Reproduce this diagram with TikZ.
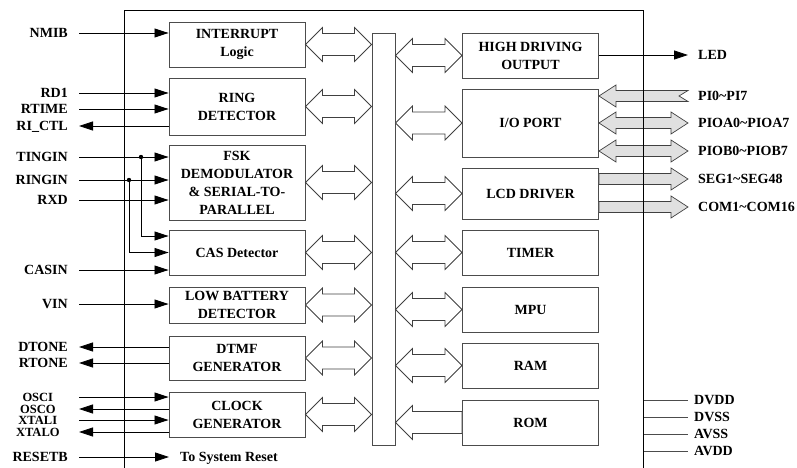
\documentclass[tikz,border=0pt]{standalone}
\usepackage{fontspec}
\setmainfont{Liberation Serif}
\usetikzlibrary{shapes,arrows,arrows.meta,calc}

\newcommand{\busarrow}[5][hollow]{\draw[#1] let \p1=#2, \p2=#3 in (\x1,\y1) -- (\x1+17pt,\y1+#5) -- (\x1+17pt,\y1+#4) -- (\x2-17pt,\y1+#4) -- (\x2-17pt,\y1+#5) -- (\x2,\y1) -- (\x2-17pt,\y1-#5) -- (\x2-17pt,\y1-#4) -- (\x1+17pt,\y1-#4) -- (\x1+17pt,\y1-#5) -- cycle;}
\newcommand{\busarrowL}[6][hollow]{\draw[#1] let \p1=#2, \p2=#3 in (\x1,\y1) -- (\x1+17pt,\y1+#5) -- (\x1+17pt,\y1+#4) -- (\x2,\y1+#4) -- (\x2-#6,\y1) -- (\x2,\y1-#4) -- (\x1+17pt,\y1-#4) -- (\x1+17pt,\y1-#5) -- cycle;}
\newcommand{\busarrowR}[5][hollow]{\draw[#1] let \p1=#2, \p2=#3 in (\x1,\y1+#4) -- (\x2-17pt,\y1+#4) -- (\x2-17pt,\y1+#5) -- (\x2,\y1) -- (\x2-17pt,\y1-#5) -- (\x2-17pt,\y1-#4) -- (\x1,\y1-#4) -- cycle;}

\tikzset{
	blk/.style={draw=black!70, line width=0.9pt, minimum width=136pt, inner sep=0pt, align=center, font=\fontsize{14}{18}\selectfont\bfseries},
	pinl/.style={anchor=east, inner xsep=11pt, inner ysep=0pt, text height=9.5pt, text depth=0pt, font=\fontsize{14}{14}\selectfont\bfseries},
	pinc/.style={pinl, inner xsep=0pt, minimum width=82pt, text height=8.5pt, font=\fontsize{12.5}{12.5}\selectfont\bfseries},
	pinr/.style={pinl, anchor=west, inner xsep=10pt},
	pinp/.style={pinl, anchor=west, inner xsep=6pt},
	sig/.style={line width=0.8pt, -{Triangle[length=14pt,width=9pt]}},
	pwr/.style={line width=0.8pt, draw=black!70},
	hollow/.style={draw=black!75, line width=0.8pt, fill=white},
	bar/.style={draw=black!75, line width=0.7pt, fill=black!12},
}

\begin{document}
\begin{tikzpicture}[x=1pt,y=-1pt]
	\useasboundingbox (0,0) rectangle (797,468);
	\coordinate (lside) at (124,0);
	\coordinate (rside) at (643,0);

	\node[blk, minimum height=45pt] (intr) at (237,44.5) {INTERRUPT\\Logic};
	\node[blk, minimum height=57pt] (ring) at (237,106.5) {RING\\DETECTOR};
	\node[blk, minimum height=75pt] (fsk) at (237,182.5) {FSK\\DEMODULATOR\\\& SERIAL-TO-\\PARALLEL};
	\node[blk, minimum height=45pt] (cas) at (237,252.5) {CAS Detector};
	\node[blk, minimum height=36pt] (lowbat) at (237,305) {LOW BATTERY\\DETECTOR};
	\node[blk, minimum height=44pt] (dtmf) at (237,358) {DTMF\\GENERATOR};
	\node[blk, minimum height=45pt] (clk) at (237,414.5) {CLOCK\\GENERATOR};

	\node[blk, minimum width=23pt, minimum height=412pt] (bus) at (383.5,239) {};

	\node[blk, minimum height=45pt] (hdo) at (530.5,55.5) {HIGH DRIVING\\OUTPUT};
	\node[blk, minimum height=68pt] (io) at (530.5,123) {I/O PORT};
	\node[blk, minimum height=51pt] (lcd) at (530.5,193.5) {LCD DRIVER};
	\node[blk, minimum height=45pt] (timer) at (530.5,252.5) {TIMER};
	\node[blk, minimum height=45pt] (mpu) at (530.5,309.5) {MPU};
	\node[blk, minimum height=45pt] (ram) at (530.5,365.5) {RAM};
	\node[blk, minimum height=45pt] (rom) at (530.5,422.5) {ROM};

	\foreach \b in {intr,ring,fsk,cas,lowbat,dtmf,clk}
		\busarrow{(\b.east)}{(\b.east -| bus.west)}{11pt}{17pt};
	\foreach \b in {hdo,io,lcd,timer,mpu,ram}
		\busarrow{(\b.west -| bus.east)}{(\b.west)}{11pt}{17pt};
	\busarrowL{(rom.west -| bus.east)}{(rom.west)}{11pt}{17pt}{0pt};

	\node[pinl] (nmib) at (79,33) {NMIB};
	\node[pinl] (rd) at (79,93) {RD1};
	\node[pinl] (rtime) at (79,109) {RTIME};
	\node[pinl] (rictl) at (79,126) {RI\_CTL};
	\node[pinl] (tingin) at (79,157) {TINGIN};
	\node[pinl] (ringin) at (79,180) {RINGIN};
	\node[pinl] (rxd) at (79,200) {RXD};
	\node[pinl] (casin) at (79,270) {CASIN};
	\node[pinl] (vin) at (79,304) {VIN};
	\node[pinl] (dtone) at (79,347) {DTONE};
	\node[pinl] (rtone) at (79,363) {RTONE};
	\node[pinc] (osci) at (79,397) {OSCI};
	\node[pinc] (osco) at (79,409) {OSCO};
	\node[pinc] (xtali) at (79,420) {XTALI};
	\node[pinc] (xtalo) at (79,432) {XTALO};
	\node[pinl] (resetb) at (79,457) {RESETB};
	\node[pinl, anchor=west] (rst) at (169,457) {To System Reset};

	\foreach \p/\b in {nmib/intr,rd/ring,rtime/ring,tingin/fsk,ringin/fsk,rxd/fsk,casin/cas,vin/lowbat,osci/clk,xtali/clk}
		\draw[sig] (\p.east) -- (\p.east -| \b.west);
	\foreach \p/\b in {rictl/ring,dtone/dtmf,rtone/dtmf,osco/clk,xtalo/clk}
		\draw[sig] (\p.east -| \b.west) -- (\p.east);
	\draw[sig] (resetb.east) -- (rst.west);

	\coordinate (tj) at (141,157);
	\coordinate (rj) at (129,180);
	\fill (tj) circle (2.2pt);
	\fill (rj) circle (2.2pt);
	\draw[sig] (tj) |- ([yshift=16.5pt]cas.west);
	\draw[sig] (rj) |- (cas.west);

	\node[pinr] (led) at (688,55) {LED};
	\node[pinr] (pi) at (688,96) {PI0\textasciitilde PI7};
	\node[pinr] (pia) at (688,123) {PIOA0\textasciitilde PIOA7};
	\node[pinr] (pib) at (688,151) {PIOB0\textasciitilde PIOB7};
	\node[pinr] (seg) at (688,179) {SEG1\textasciitilde SEG48};
	\node[pinr] (com) at (688,207) {COM1\textasciitilde COM16};
	\draw[sig] (led.west -| hdo.east) -- (led.west);
	\busarrowL[bar]{(pi.west -| io.east)}{(pi.west)}{5.5pt}{11pt}{9pt};
	\busarrow[bar]{(pia.west -| io.east)}{(pia.west)}{5.5pt}{11pt};
	\busarrow[bar]{(pib.west -| io.east)}{(pib.west)}{5.5pt}{11pt};
	\busarrowR[bar]{(seg.west -| lcd.east)}{(seg.west)}{5.5pt}{11pt};
	\busarrowR[bar]{(com.west -| lcd.east)}{(com.west)}{5.5pt}{11pt};

	\node[pinp] (dvdd) at (688,400) {DVDD};
	\node[pinp] (dvss) at (688,417) {DVSS};
	\node[pinp] (avss) at (688,434) {AVSS};
	\node[pinp] (avdd) at (688,451) {AVDD};
	\foreach \p in {dvdd,dvss,avss,avdd}
		\draw[pwr] (\p.west -| rside) -- (\p.west);

	\draw[line width=0.9pt] (lside |- 0,468) -- (lside |- 0,10) -- (rside |- 0,10) -- (rside |- 0,468);
\end{tikzpicture}
\end{document}
